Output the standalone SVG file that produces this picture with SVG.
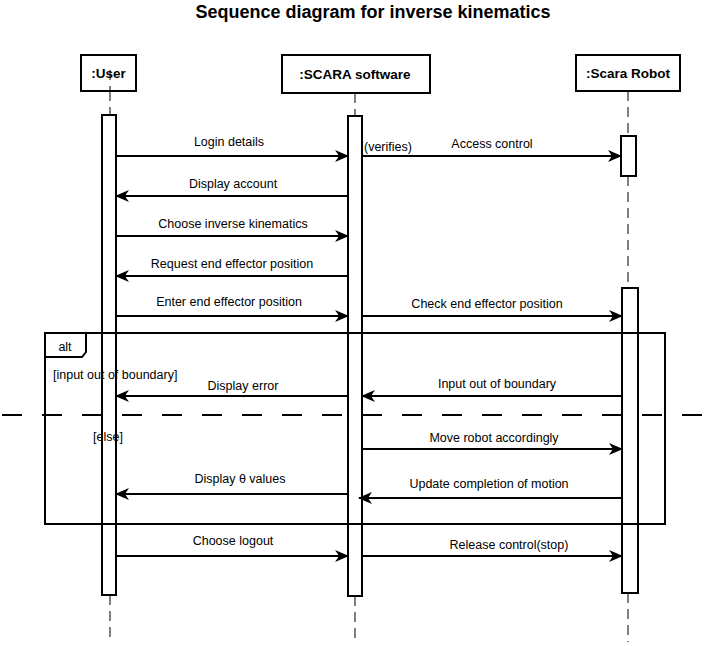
<svg xmlns="http://www.w3.org/2000/svg" width="712" height="646" viewBox="0 0 712 646">
<style>
  .t { font-family: "Liberation Sans", Arial, sans-serif; font-size: 12.5px; fill: #000; }
  .c { text-anchor: middle; }
  .b { font-weight: bold; font-size: 13.5px; }
  .box { fill: #fff; stroke: #000; stroke-width: 2; }
  .life { stroke: #000; stroke-width: 1; stroke-dasharray: 10 6; fill: none; }
  .msg { stroke: #000; stroke-width: 2; fill: none; marker-end: url(#arr); }
  .frame { fill: none; stroke: #000; stroke-width: 2; }
</style>
<defs>
  <marker id="arr" viewBox="0 0 14 12" refX="13" refY="6" markerWidth="14" markerHeight="12" markerUnits="userSpaceOnUse" orient="auto">
    <path d="M0,0 L14,6 L0,12 L4,6 Z" fill="#000"/>
  </marker>
</defs>
<rect width="712" height="646" fill="#fff"/>
<text class="t c" x="373" y="18" style="font-size:18px;font-weight:bold">Sequence diagram for inverse kinematics</text>

<g id="user">
  <line class="life" x1="110" y1="91" x2="110" y2="115"/>
  <line class="life" x1="110" y1="595" x2="110" y2="638"/>
  <rect class="box" x="81" y="55" width="55" height="36"/>
  <line class="life" x1="110" y1="70" x2="110" y2="91"/>
  <text class="t c b" x="108.5" y="78">:User</text>
  <rect class="box" x="102" y="115" width="14" height="480"/>
</g>
<g id="software">
  <line class="life" x1="355" y1="93" x2="355" y2="116"/>
  <line class="life" x1="355" y1="596" x2="355" y2="638"/>
  <rect class="box" x="282" y="55" width="148" height="38"/>
  <text class="t c b" x="355" y="79">:SCARA software</text>
  <rect class="box" x="348" y="116" width="14" height="480"/>
</g>
<g id="robot">
  <line class="life" x1="628" y1="91" x2="628" y2="136"/>
  <line class="life" x1="628" y1="176" x2="628" y2="288"/>
  <line class="life" x1="628" y1="593" x2="628" y2="642"/>
  <rect class="box" x="576" y="55" width="104" height="36"/>
  <text class="t c b" x="628" y="78">:Scara Robot</text>
  <rect class="box" x="621" y="136" width="15" height="40"/>
  <rect class="box" x="622" y="288" width="16" height="305"/>
</g>

<g id="alt-frame">
  <rect class="frame" x="45" y="333" width="620" height="191"/>
  <path class="frame" d="M45,357 L82,357 L86,352 L86,333"/>
  <text class="t c" x="65" y="351">alt</text>
  <text class="t" x="53" y="379">[input out of boundary]</text>
  <text class="t" x="93" y="441">[else]</text>
  <line x1="2" y1="415" x2="712" y2="415" stroke="#000" stroke-width="2" stroke-dasharray="20 20"/>
</g>

<g id="connectors">
  <line class="msg" x1="116" y1="156" x2="348" y2="156"/>
  <line class="msg" x1="362" y1="156" x2="621" y2="156"/>
  <line class="msg" x1="348" y1="196" x2="116" y2="196"/>
  <line class="msg" x1="116" y1="236" x2="348" y2="236"/>
  <line class="msg" x1="348" y1="276" x2="116" y2="276"/>
  <line class="msg" x1="116" y1="316" x2="348" y2="316"/>
  <line class="msg" x1="362" y1="316" x2="622" y2="316"/>
  <line class="msg" x1="348" y1="396" x2="116" y2="396"/>
  <line class="msg" x1="622" y1="396" x2="362" y2="396"/>
  <line class="msg" x1="362" y1="449" x2="622" y2="449"/>
  <line class="msg" x1="348" y1="494" x2="116" y2="494"/>
  <line class="msg" x1="622" y1="498" x2="359" y2="498"/>
  <line class="msg" x1="116" y1="556" x2="348" y2="556"/>
  <line class="msg" x1="362" y1="556" x2="622" y2="556"/>
</g>

<g id="labels">
  <text class="t c" x="229" y="146">Login details</text>
  <text class="t" x="364" y="151">(verifies)</text>
  <text class="t c" x="492" y="148">Access control</text>
  <text class="t c" x="233" y="188">Display account</text>
  <text class="t c" x="233" y="228">Choose inverse kinematics</text>
  <text class="t c" x="232" y="268">Request end effector position</text>
  <text class="t c" x="229" y="306">Enter end effector position</text>
  <text class="t c" x="487" y="308">Check end effector position</text>
  <text class="t c" x="243" y="390">Display error</text>
  <text class="t c" x="497" y="388">Input out of boundary</text>
  <text class="t c" x="494" y="442">Move robot accordingly</text>
  <text class="t c" x="240" y="483">Display θ values</text>
  <text class="t c" x="489" y="488">Update completion of motion</text>
  <text class="t c" x="233" y="545">Choose logout</text>
  <text class="t c" x="509" y="549">Release control(stop)</text>
</g>
</svg>
